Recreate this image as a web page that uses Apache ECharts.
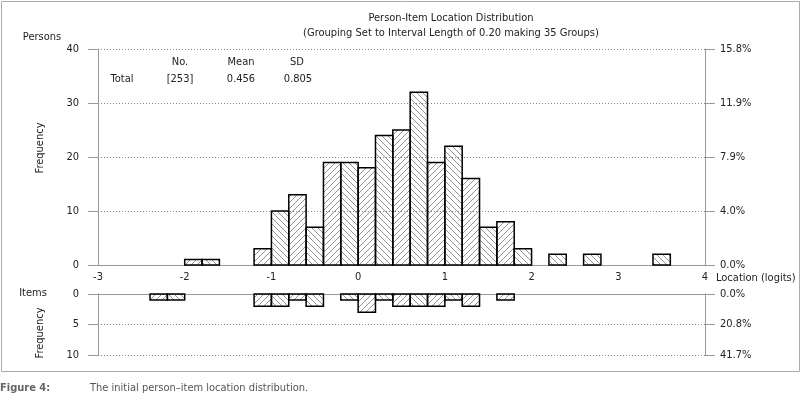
<!DOCTYPE html>
<html>
<head>
<meta charset="utf-8">
<script src="https://cdn.jsdelivr.net/npm/echarts@6/dist/echarts.min.js"></script>
<style>
  html, body { margin: 0; padding: 0; background: #fff; }
  #chart { width: 803px; height: 397px; }
</style>
</head>
<body>
<div id="chart"></div>
<script>
// bins of 0.20 logits, lower edge + count
const binWidth = 0.2
const personLower = [-2.0, -1.8, -1.2, -1.0, -0.8, -0.6, -0.4, -0.2, 0.0, 0.2, 0.4, 0.6, 0.8, 1.0, 1.2, 1.4, 1.6, 1.8, 2.2, 2.6, 3.4]
const personCount = [1, 1, 3, 10, 13, 7, 19, 19, 18, 24, 25, 32, 19, 22, 16, 7, 8, 3, 2, 2, 2]
const itemLower = [-2.4, -2.2, -1.2, -1.0, -0.8, -0.6, -0.2, 0.0, 0.2, 0.4, 0.6, 0.8, 1.0, 1.2, 1.6]
const itemCount = [1, 1, 2, 2, 1, 2, 1, 3, 1, 2, 2, 2, 1, 2, 1]
const statHeader = ['No.', 'Mean', 'SD']
const statTotal = ['0.456', '0.805'] // mean, sd

const FONT = '"DejaVu Sans Condensed", "Liberation Sans Narrow", "Liberation Sans", sans-serif'
const FS = 11
const TXT = '#222'
const AXIS = '#999'

function hatch(dir) {
  let c = document.createElement('canvas')
  c.width = 6
  c.height = 6
  let ctx = c.getContext('2d')
  ctx.strokeStyle = '#777'
  ctx.lineWidth = 0.8
  ctx.beginPath()
  if (dir === '/') {
    ctx.moveTo(-1, 7); ctx.lineTo(7, -1)
    ctx.moveTo(-1, 1); ctx.lineTo(1, -1)
    ctx.moveTo(5, 7); ctx.lineTo(7, 5)
  } else {
    ctx.moveTo(-1, -1); ctx.lineTo(7, 7)
    ctx.moveTo(5, -1); ctx.lineTo(7, 1)
    ctx.moveTo(-1, 5); ctx.lineTo(1, 7)
  }
  ctx.stroke()
  return c
}
const patFwd = { image: hatch('/'), repeat: 'repeat' }
const patBack = { image: hatch('\\'), repeat: 'repeat' }

const personTotal = personCount.reduce((a, b) => a + b, 0)
const itemTotal = itemCount.reduce((a, b) => a + b, 0)

function toData(lower, count) {
  return lower.map((x, i) => [x, count[i], Math.round((x + 3) / binWidth)])
}

function renderBar(params, api) {
  let x0 = api.value(0)
  let h = api.value(1)
  let idx = api.value(2)
  let p0 = api.coord([x0, 0])
  let p1 = api.coord([x0 + binWidth, h])
  return {
    type: 'rect',
    shape: {
      x: p0[0],
      y: Math.min(p0[1], p1[1]),
      width: p1[0] - p0[0],
      height: Math.abs(p1[1] - p0[1])
    },
    style: {
      fill: idx % 2 === 1 ? patFwd : patBack,
      stroke: '#000',
      lineWidth: 1.5
    }
  }
}

function gText(x, y, text, extra) {
  return {
    type: 'text', x: x, y: y,
    style: Object.assign({
      text: text, fill: TXT, font: FS + 'px ' + FONT,
      textAlign: 'center', textVerticalAlign: 'middle'
    }, extra || {})
  }
}

function yAxisOpt(grid, pos, max, interval, inverse, total) {
  let label = { color: TXT, fontSize: FS, margin: pos === 'left' ? 19 : 15, fontFamily: FONT }
  if (total) label.formatter = v => (v / total * 100).toFixed(1) + '%'
  return {
    type: 'value', gridIndex: grid, position: pos, inverse: inverse,
    min: 0, max: max, interval: interval,
    axisLine: { show: true, onZero: false, lineStyle: { color: AXIS } },
    axisTick: { show: true, length: 10, lineStyle: { color: AXIS } },
    splitLine: { show: pos === 'left', lineStyle: { color: '#888', type: [1, 2] } },
    axisLabel: label
  }
}

let myChart = echarts.init(document.getElementById('chart'))
let option = {
  animation: false,
  textStyle: { fontFamily: FONT },
  title: {
    text: 'Person-Item Location Distribution',
    subtext: '(Grouping Set to Interval Length of 0.20 making 35 Groups)',
    left: 446,
    textAlign: 'center',
    top: 8,
    itemGap: 4,
    textStyle: { fontSize: FS, fontWeight: 'normal', color: TXT, fontFamily: FONT },
    subtextStyle: { fontSize: FS, color: TXT, fontFamily: FONT }
  },
  grid: [
    { left: 98, top: 49, width: 607, height: 216 },
    { left: 98, top: 294, width: 607, height: 61 }
  ],
  xAxis: [
    {
      type: 'value', gridIndex: 0, min: -3, max: 4, interval: 1,
      axisLine: { show: true, onZero: false, lineStyle: { color: AXIS } },
      axisTick: { show: false },
      splitLine: { show: false },
      axisLabel: { color: TXT, fontSize: FS, margin: 7, fontFamily: FONT }
    },
    {
      type: 'value', gridIndex: 1, min: -3, max: 4, interval: 1, position: 'top',
      axisLine: { show: true, onZero: false, lineStyle: { color: AXIS } },
      axisTick: { show: false },
      splitLine: { show: false },
      axisLabel: { show: false }
    }
  ],
  yAxis: [
    yAxisOpt(0, 'left', 40, 10, false),
    yAxisOpt(0, 'right', 40, 10, false, personTotal),
    yAxisOpt(1, 'left', 10, 5, true),
    yAxisOpt(1, 'right', 10, 5, true, itemTotal)
  ],
  series: [
    {
      type: 'custom', name: 'Persons',
      xAxisIndex: 0, yAxisIndex: 0,
      renderItem: renderBar,
      encode: { x: 0, y: 1 },
      data: toData(personLower, personCount)
    },
    {
      type: 'custom', name: 'Items',
      xAxisIndex: 1, yAxisIndex: 2,
      renderItem: renderBar,
      encode: { x: 0, y: 1 },
      data: toData(itemLower, itemCount)
    }
  ],
  graphic: [
    { type: 'rect', shape: { x: 1.5, y: 1.5, width: 798, height: 370 }, style: { fill: 'none', stroke: '#aaa', lineWidth: 1 }, z: -1 },
    gText(42, 37, 'Persons'),
    gText(33, 293, 'Items'),
    gText(716, 278, 'Location (logits)', { textAlign: 'left' }),
    gText(180, 62, statHeader[0]),
    gText(241, 62, statHeader[1]),
    gText(297, 62, statHeader[2]),
    gText(122, 79, 'Total'),
    gText(180, 79, '[' + personTotal + ']'),
    gText(241, 79, statTotal[0]),
    gText(298, 79, statTotal[1]),
    Object.assign(gText(40, 148, 'Frequency'), { rotation: Math.PI / 2 }),
    Object.assign(gText(40, 333, 'Frequency'), { rotation: Math.PI / 2 }),
    gText(0, 388, 'Figure 4:', { textAlign: 'left', fill: '#666', font: 'bold ' + FS + 'px ' + FONT }),
    gText(90, 388, 'The initial person\u2013item location distribution.', { textAlign: 'left', fill: '#555' })
  ]
}

myChart.setOption(option)
window.addEventListener('resize', function() {
  myChart.resize()
})
</script>
</body>
</html>
